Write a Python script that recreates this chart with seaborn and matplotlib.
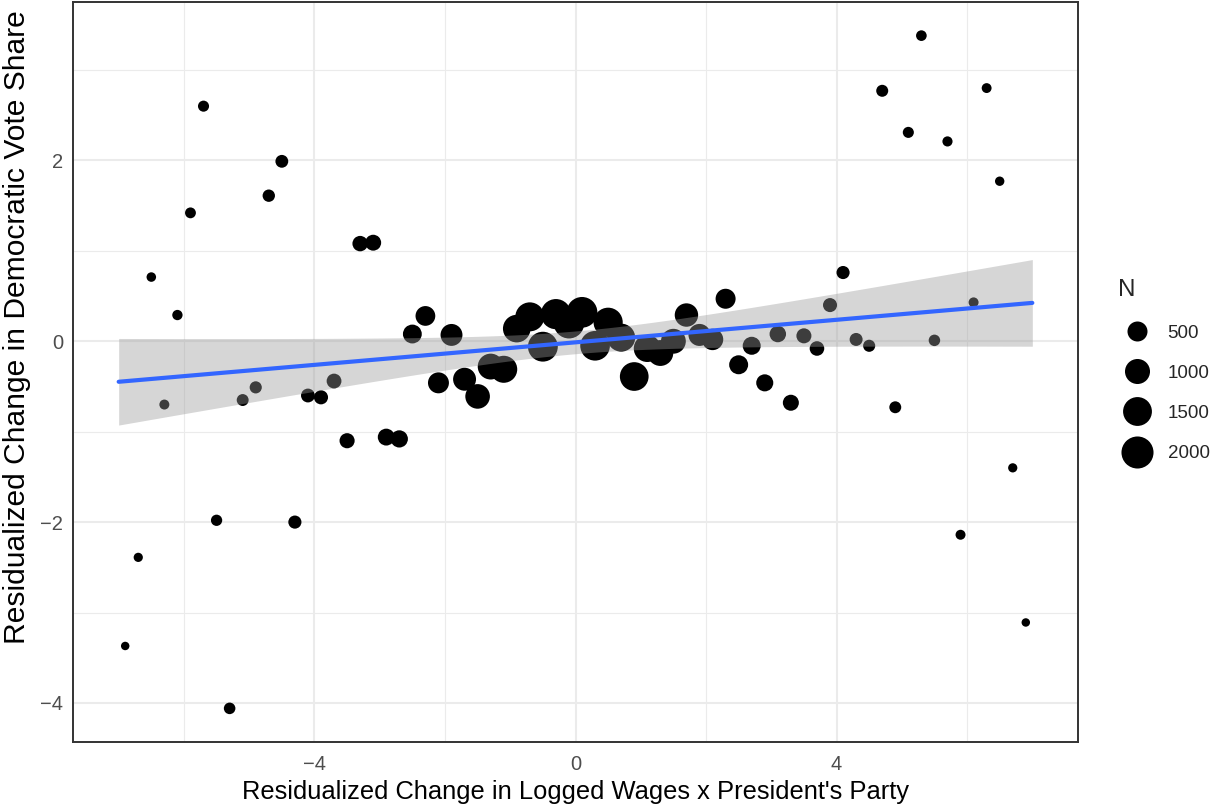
import numpy as np
import pandas as pd
import matplotlib
matplotlib.use("Agg")
import matplotlib.pyplot as plt
from matplotlib.colors import FuncNorm
from matplotlib.lines import Line2D
from matplotlib.ticker import MultipleLocator
import seaborn as sns

# binned scatter: bin centre, mean residual vote share, number of obs
bin_x = [-6.9, -6.7, -6.5, -6.3, -6.1, -5.9, -5.7, -5.5, -5.3, -5.1,
         -4.9, -4.7, -4.5, -4.3, -4.1, -3.9, -3.7, -3.5, -3.3, -3.1,
         -2.9, -2.7, -2.5, -2.3, -2.1, -1.9, -1.7, -1.5, -1.3, -1.1,
         -0.9, -0.7, -0.5, -0.3, -0.1, 0.1, 0.3, 0.5, 0.7, 0.9,
         1.1, 1.3, 1.5, 1.7, 1.9, 2.1, 2.3, 2.5, 2.7, 2.9,
         3.1, 3.3, 3.5, 3.7, 3.9, 4.1, 4.3, 4.5, 4.7, 4.9,
         5.1, 5.3, 5.5, 5.7, 5.9, 6.1, 6.3, 6.5, 6.7, 6.9]
vote_share = [-3.37, -2.39, 0.71, -0.70, 0.29, 1.42, 2.60, -1.98, -4.06, -0.65,
              -0.51, 1.61, 1.99, -2.00, -0.60, -0.62, -0.44, -1.10, 1.08, 1.09,
              -1.06, -1.08, 0.08, 0.28, -0.46, 0.07, -0.42, -0.61, -0.28, -0.31,
              0.14, 0.27, -0.06, 0.30, 0.20, 0.32, -0.05, 0.21, 0.04, -0.39,
              -0.08, -0.13, 0.00, 0.29, 0.07, 0.02, 0.47, -0.26, -0.05, -0.46,
              0.08, -0.68, 0.06, -0.08, 0.40, 0.76, 0.02, -0.05, 2.77, -0.73,
              2.31, 3.38, 0.01, 2.21, -2.14, 0.43, 2.80, 1.77, -1.40, -3.11]
n_obs = [28, 30, 32, 36, 40, 48, 52, 56, 62, 70,
         76, 82, 95, 105, 130, 140, 170, 185, 200, 225,
         280, 300, 410, 480, 580, 670, 770, 950, 1100, 1250,
         1330, 1520, 1650, 1700, 1760, 1780, 1620, 1550, 1380, 1480,
         1250, 1100, 980, 820, 680, 620, 500, 420, 350, 290,
         255, 230, 180, 160, 138, 105, 100, 75, 72, 70,
         52, 45, 60, 38, 36, 36, 35, 31, 30, 28]
legend_n = [500, 1000, 1500, 2000]

df = pd.DataFrame({"x": bin_x, "y": vote_share, "N": n_obs})

# size scale like ggplot's scale_size (diameter grows with sqrt of N)
n_lo, n_hi = df["N"].min(), df["N"].max()
d_lo, d_hi = 6.1, 22.1  # marker diameters in points


def size_fwd(v):
    r = np.clip((np.asarray(v, float) - n_lo) / (n_hi - n_lo), 0, None)
    return (d_lo + (d_hi - d_lo) * np.sqrt(r)) ** 2


def size_inv(a):
    r = ((np.sqrt(np.asarray(a, float)) - d_lo) / (d_hi - d_lo)) ** 2
    return n_lo + r * (n_hi - n_lo)


size_norm = FuncNorm((size_fwd, size_inv), vmin=n_lo, vmax=n_hi)

# weighted linear fit (weights = N) with 95% band
xv, yv, wv = df["x"].values, df["y"].values, df["N"].values.astype(float)
X = np.column_stack([np.ones_like(xv), xv])
XtW = X.T * wv
beta = np.linalg.solve(XtW @ X, XtW @ yv)
resid = yv - X @ beta
sigma2 = np.sum(wv * resid ** 2) / (len(xv) - 2)
cov = sigma2 * np.linalg.inv(XtW @ X)
xs = np.linspace(xv.min() - 0.1, xv.max() + 0.1, 100)  # bin edges
Xs = np.column_stack([np.ones_like(xs), xs])
fit = Xs @ beta
se = np.sqrt(np.einsum("ij,jk,ik->i", Xs, cov, Xs))
t_crit = 1.995

sns.set_style("white")
plt.rcParams["font.family"] = ["Liberation Sans", "DejaVu Sans"]

fig = plt.figure(figsize=(12.18, 8.05), dpi=100)
ax = fig.add_axes([73 / 1218, 1 - 742 / 805, 1005 / 1218, 740 / 805])

sns.scatterplot(data=df, x="x", y="y", size="N", sizes=(d_lo ** 2, d_hi ** 2),
                size_norm=size_norm, color="black", linewidth=0, legend=False,
                ax=ax, zorder=2)
ax.fill_between(xs, fit - t_crit * se, fit + t_crit * se, color="#999999",
                alpha=0.4, linewidth=0, zorder=3)
sns.lineplot(x=xs, y=fit, color="#3366FF", linewidth=3, ax=ax, zorder=4)

# limits with 5% expansion
ax.set_xlim(-7.7, 7.7)
ylo, yhi = df["y"].min(), df["y"].max()
pad = 0.05 * (yhi - ylo)
ax.set_ylim(ylo - pad, yhi + pad)

ax.xaxis.set_major_locator(MultipleLocator(4))
ax.xaxis.set_minor_locator(MultipleLocator(2))
ax.yaxis.set_major_locator(MultipleLocator(2))
ax.yaxis.set_minor_locator(MultipleLocator(1))
ax.grid(which="major", color="#EBEBEB", linewidth=1.5)
ax.grid(which="minor", color="#EBEBEB", linewidth=0.8)
ax.set_axisbelow(True)
ax.tick_params(which="major", length=4, width=1, color="#333333",
               labelsize=14.5, labelcolor="#4D4D4D", pad=3)
ax.tick_params(axis="x", which="major", pad=5.5)
ax.tick_params(which="minor", length=0)
for sp in ax.spines.values():
    sp.set_color("#333333")
    sp.set_linewidth(1.4)

ax.set_xlabel("Residualized Change in Logged Wages x President's Party",
              fontsize=18.4, color="black", labelpad=4.5)
ax.set_ylabel("Residualized Change in Democratic Vote Share",
              fontsize=21.6, color="black")
ax.yaxis.set_label_coords(-0.042, 0.561)

handles = [Line2D([], [], marker="o", linestyle="", color="black",
                  markeredgewidth=0, markersize=float(np.sqrt(size_fwd(n))))
           for n in legend_n]
fig.legend(handles, [str(n) for n in legend_n], title="N",
           loc="upper left", bbox_to_anchor=(1108.6 / 1218, 1 - 270 / 805),
           frameon=False, fontsize=13.5, title_fontsize=17.5, borderpad=0,
           handlelength=2.0, handletextpad=0.65, labelspacing=1.23,
           alignment="left")

fig.savefig("out.png", dpi=100)
